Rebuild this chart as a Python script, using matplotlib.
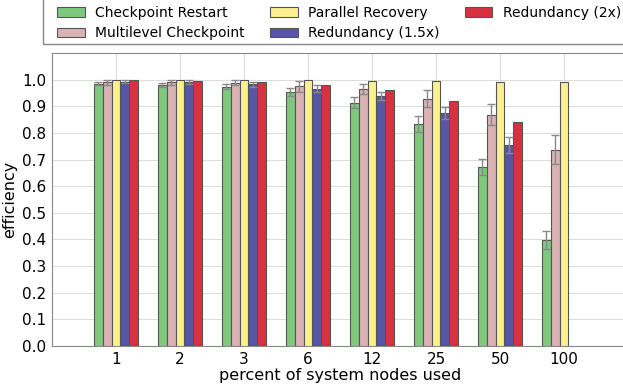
import matplotlib
matplotlib.use("Agg")
import matplotlib.pyplot as plt
from matplotlib.patches import Rectangle
import numpy as np

# data
groups = ["1", "2", "3", "6", "12", "25", "50", "100"]
series = ["Checkpoint Restart", "Multilevel Checkpoint", "Parallel Recovery",
          "Redundancy (1.5x)", "Redundancy (2x)"]

checkpoint = [0.985, 0.980, 0.973, 0.955, 0.914, 0.835, 0.672, 0.399]
checkpoint_err = [0.007, 0.007, 0.010, 0.015, 0.020, 0.030, 0.030, 0.033]
multilevel = [0.990, 0.990, 0.988, 0.975, 0.965, 0.929, 0.869, 0.737]
multilevel_err = [0.010, 0.010, 0.010, 0.020, 0.020, 0.033, 0.040, 0.054]
parallel = [1.000, 0.999, 0.998, 0.998, 0.996, 0.995, 0.992, 0.990]
parallel_err = [0, 0, 0, 0, 0, 0, 0, 0]
red15 = [0.993, 0.990, 0.982, 0.966, 0.939, 0.876, 0.756, np.nan]
red15_err = [0.007, 0.007, 0.010, 0.012, 0.016, 0.023, 0.030, np.nan]
red2 = [0.997, 0.995, 0.990, 0.980, 0.960, 0.919, 0.841, np.nan]
red2_err = [0, 0, 0, 0, 0, 0, 0, np.nan]

values = [checkpoint, multilevel, parallel, red15, red2]
errors = [checkpoint_err, multilevel_err, parallel_err, red15_err, red2_err]
colors = ["#7fc97f", "#d9b3b3", "#fdf08e", "#5a54a4", "#d7303f"]

W, H = 623, 387
fig = plt.figure(figsize=(W / 100, H / 100), dpi=100)
# right spine falls just outside the canvas, like the reference crop
ax = fig.add_axes([52 / W, 41 / H, 576 / W, 293 / H])

x = np.arange(len(groups))
w = 0.14
for i in range(len(series)):
    pos = x + (i - 2) * w
    err = np.array(errors[i], dtype=float)
    err_plot = np.where(err > 0, err, np.nan)
    ax.bar(pos, values[i], w, color=colors[i], edgecolor="#555555",
           linewidth=0.8, label=series[i], zorder=3)
    ax.errorbar(pos, values[i], yerr=err_plot, fmt="none", ecolor="#888888",
                elinewidth=1, capsize=3, capthick=1, zorder=4)

ax.set_xlim(-1, 8)
ax.set_ylim(0, 1.1)
ax.set_xticks(x)
ax.set_xticklabels(groups)
ax.set_yticks(np.arange(0, 1.01, 0.1))
ax.set_yticklabels(["%.1f" % v for v in np.arange(0, 1.01, 0.1)])
ax.tick_params(length=0, labelsize=11, pad=4)
ax.grid(True, color="#dddddd", linewidth=0.8, zorder=0)
for s in ax.spines.values():
    s.set_color("#888888")
ax.set_xlabel("percent of system nodes used", fontsize=11.5, labelpad=1)
ax.set_ylabel("efficiency", fontsize=11.5)

# legend box above the axes, frame drawn by hand so it can run off the right edge
fig.patches.append(Rectangle((43 / W, (H - 44) / H), 600 / W, 60 / H,
                             transform=fig.transFigure, facecolor="white",
                             edgecolor="#888888", linewidth=1.0))
leg = fig.legend(loc="upper left", bbox_to_anchor=(57 / W, (H - 6) / H), ncol=3,
                 fontsize=10, frameon=False, borderaxespad=0, borderpad=0,
                 handlelength=2.0, handleheight=0.65, handletextpad=0.75,
                 columnspacing=1.8, labelspacing=0.45)

fig.savefig("out.png", dpi=100)
